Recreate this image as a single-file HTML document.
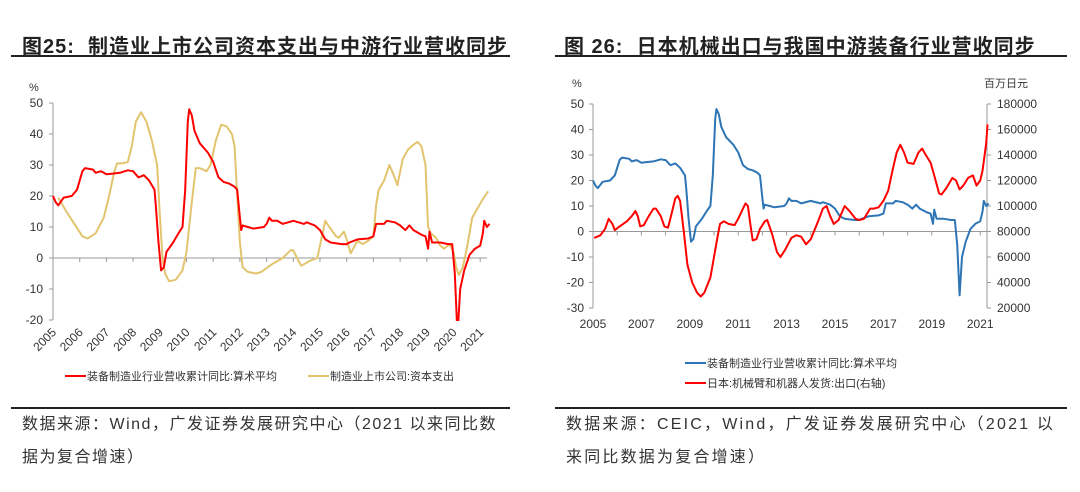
<!DOCTYPE html>
<html><head><meta charset="utf-8">
<style>
body{margin:0;width:1080px;height:492px;background:#fff;font-family:"Liberation Sans","Noto Sans CJK SC",sans-serif;position:relative;overflow:hidden}
.title{position:absolute;top:30px;font-size:20px;font-weight:bold;color:#222;white-space:nowrap;letter-spacing:1px}
.rule{position:absolute;height:2px;background:#222}
.foot{position:absolute;font-size:16px;color:#333;line-height:33px;letter-spacing:1.5px}
svg{position:absolute;left:0;top:0}
svg text{font-family:"Liberation Sans","Noto Sans CJK SC",sans-serif;fill:#333}
</style></head><body>
<div class="title" style="left:22px">图25:&nbsp; 制造业上市公司资本支出与中游行业营收同步</div>
<div class="rule" style="left:11px;width:499px;top:55px"></div>
<div class="title" style="left:564px">图 26:&nbsp; 日本机械出口与我国中游装备行业营收同步</div>
<div class="rule" style="left:555px;width:512px;top:55px"></div>
<div class="rule" style="left:11px;width:499px;top:407px"></div>
<div class="rule" style="left:555px;width:512px;top:407px"></div>
<div class="foot" style="left:22px;top:408px;width:486px">数据来源：Wind，广发证券发展研究中心（2021 以来同比数据为复合增速）</div>
<div class="foot" style="left:566px;top:408px;width:492px;letter-spacing:2.2px">数据来源：CEIC，Wind，广发证券发展研究中心（2021 以来同比数据为复合增速）</div>
<svg id="chart" width="1080" height="492"></svg>
<script>
const revenue=[[2005.0,20],[2005.1,18],[2005.2,17],[2005.4,19.5],[2005.7,20],[2005.9,22],[2006.1,28],[2006.2,29],[2006.5,28.5],[2006.6,27.5],[2006.8,28],[2007.0,27],[2007.2,27.2],[2007.5,27.5],[2007.8,28.3],[2008.0,28],[2008.2,26],[2008.4,26.7],[2008.6,25],[2008.8,22],[2008.85,17],[2008.95,5],[2009.05,-4],[2009.15,-3],[2009.25,2],[2009.5,5],[2009.7,8],[2009.85,10],[2009.95,22],[2010.05,44],[2010.1,48],[2010.2,46],[2010.3,41],[2010.5,37],[2010.8,34],[2011.0,31],[2011.2,26],[2011.4,24.5],[2011.6,24],[2011.8,23],[2011.9,22],[2012.0,13],[2012.05,9],[2012.1,10.5],[2012.3,10],[2012.5,9.5],[2012.9,10],[2013.0,11],[2013.1,13],[2013.2,12],[2013.4,12],[2013.6,11],[2014.0,12],[2014.4,11],[2014.5,11.5],[2014.8,10.5],[2015.0,9],[2015.2,6],[2015.4,5],[2015.8,4.5],[2016.0,4.5],[2016.1,5],[2016.4,6],[2016.8,6.3],[2017.0,7],[2017.1,11],[2017.4,11],[2017.5,12],[2017.8,11.5],[2018.0,10.5],[2018.2,9],[2018.35,10.5],[2018.5,9],[2018.8,7.5],[2018.95,7],[2019.05,3],[2019.1,8.5],[2019.2,5],[2019.5,5],[2019.8,4.5],[2019.95,4.5],[2020.05,-5],[2020.15,-25],[2020.25,-10],[2020.4,-4],[2020.6,1],[2020.8,3],[2021.0,4],[2021.1,8],[2021.15,12],[2021.25,10],[2021.35,11]];
const capex=[[2005.2,19.5],[2005.5,15],[2005.8,11],[2006.1,7],[2006.3,6.3],[2006.6,8],[2006.9,13],[2007.1,20],[2007.3,28],[2007.4,30.5],[2007.6,30.5],[2007.8,31],[2007.95,36],[2008.1,44],[2008.3,47],[2008.5,44],[2008.7,38],[2008.9,30],[2009.0,14],[2009.1,0],[2009.2,-5],[2009.35,-7.5],[2009.6,-7],[2009.85,-4],[2010.0,2],[2010.2,18],[2010.35,29],[2010.5,29],[2010.75,28],[2010.9,30],[2011.1,38],[2011.3,43],[2011.5,42.5],[2011.7,40],[2011.8,36],[2011.9,20],[2012.0,5],[2012.1,-3],[2012.3,-4.5],[2012.6,-5],[2012.8,-4.5],[2013.2,-2],[2013.6,0],[2013.9,2.5],[2014.0,2.5],[2014.2,-1],[2014.3,-2.5],[2014.6,-1],[2014.9,0],[2015.05,6],[2015.2,12],[2015.35,10],[2015.6,7],[2015.7,6.5],[2015.9,8.5],[2016.0,6],[2016.15,1.5],[2016.4,5.5],[2016.6,4.5],[2016.8,5.5],[2017.0,7],[2017.1,17],[2017.2,22],[2017.4,25],[2017.6,30],[2017.75,27],[2017.9,23.5],[2018.1,32],[2018.3,35],[2018.5,36.5],[2018.65,37.5],[2018.8,36],[2018.95,30],[2019.05,10],[2019.15,8],[2019.35,6.5],[2019.5,4],[2019.65,3],[2019.85,4.5],[2020.0,2],[2020.1,-3],[2020.2,-5.5],[2020.35,-3],[2020.5,3],[2020.7,13],[2020.9,16],[2021.1,19],[2021.3,21.5]];
const japanExports=[[2005.05,75000],[2005.3,77000],[2005.5,82000],[2005.65,90000],[2005.8,86000],[2005.9,81000],[2006.1,84000],[2006.4,88000],[2006.6,92000],[2006.75,96000],[2006.85,92000],[2006.95,84000],[2007.1,85000],[2007.3,92000],[2007.5,98000],[2007.6,98000],[2007.8,92000],[2007.95,84000],[2008.1,83000],[2008.25,94000],[2008.4,106000],[2008.5,108000],[2008.6,104000],[2008.75,80000],[2008.9,54000],[2009.1,40000],[2009.3,32000],[2009.45,29000],[2009.6,32000],[2009.85,44000],[2010.0,60000],[2010.15,76000],[2010.25,86000],[2010.4,88000],[2010.6,86000],[2010.85,85000],[2011.0,90000],[2011.2,98000],[2011.3,102000],[2011.4,100000],[2011.5,86000],[2011.6,73000],[2011.75,74000],[2011.9,82000],[2012.1,88000],[2012.2,89000],[2012.4,78000],[2012.6,64000],[2012.75,60000],[2012.95,66000],[2013.2,75000],[2013.4,77000],[2013.6,76000],[2013.8,70000],[2014.0,74000],[2014.3,88000],[2014.5,98000],[2014.65,100000],[2014.8,92000],[2014.95,86000],[2015.15,89000],[2015.4,100000],[2015.6,96000],[2015.85,90000],[2016.0,89000],[2016.2,90000],[2016.45,98000],[2016.6,98000],[2016.8,99000],[2017.0,104000],[2017.2,112000],[2017.4,130000],[2017.55,142000],[2017.7,148000],[2017.85,142000],[2018.0,134000],[2018.25,133000],[2018.45,142000],[2018.6,145000],[2018.75,140000],[2018.95,134000],[2019.1,124000],[2019.3,110000],[2019.4,109000],[2019.6,114000],[2019.85,122000],[2020.0,120000],[2020.15,113000],[2020.3,116000],[2020.5,122000],[2020.7,124000],[2020.85,116000],[2021.0,120000],[2021.1,128000],[2021.25,150000],[2021.3,164000]];
const leftYTicks=[50,40,30,20,10,0,-10,-20];
const leftYears=[2005,2006,2007,2008,2009,2010,2011,2012,2013,2014,2015,2016,2017,2018,2019,2020,2021];
const rightYTicks=[50,40,30,20,10,0,-10,-20,-30];
const rightY2Ticks=[180000,160000,140000,120000,100000,80000,60000,40000,20000];
const rightYears=[2005,2007,2009,2011,2013,2015,2017,2019,2021];

const NS='http://www.w3.org/2000/svg';
const svg=document.getElementById('chart');
function mk(tag,attrs,parent){const e=document.createElementNS(NS,tag);for(const k in attrs)e.setAttribute(k,attrs[k]);(parent||svg).appendChild(e);return e;}
function txt(s,attrs){const t=mk('text',attrs);t.textContent=s;return t;}

const lx=y=>53+(y-2005)*26.7;
const ly=v=>258-v*3.1;
const rx=y=>593+(y-2005)*24.2;
const ry=v=>104+(50-v)*2.55;
const ry2=v=>104+(180000-v)/160000*204;

const defs=mk('defs',{});
const cp=mk('clipPath',{id:'lclip'},defs);
mk('rect',{x:40,y:95,width:460,height:226},cp);

let g=mk('g',{});


mk('line',{x1:53,y1:ly(50),x2:53,y2:ly(-20),stroke:'#999','stroke-width':1},g);
leftYTicks.forEach(v=>{
  mk('line',{x1:49,y1:ly(v),x2:53,y2:ly(v),stroke:'#999'},g);
  const t=txt(v,{x:43,y:ly(v)+4,'text-anchor':'end','font-size':12});
  
  
});
const lu=txt('%',{x:29,y:91,'font-size':11});


g=mk('g',{});


mk('line',{x1:53,y1:ly(0),x2:487,y2:ly(0),stroke:'#999'},g);
leftYears.forEach(y=>{
  mk('line',{x1:lx(y),y1:ly(0),x2:lx(y),y2:ly(0)+4,stroke:'#999'},g);
  const t=txt(y,{x:lx(y)+4,y:333,'text-anchor':'end','font-size':12,transform:`rotate(-45 ${lx(y)+4} 333)`});
  
  
});
function path(data,fx,fy,color,w,parent){return mk('path',{d:data.map((p,i)=>(i?'L':'M')+fx(p[0]).toFixed(1)+','+fy(p[1]).toFixed(1)).join(''),fill:'none',stroke:color,'stroke-width':w,'stroke-linejoin':'round'},parent);}
const capexLine=path(capex,lx,ly,'#e3c46e',2);


const revL=path(revenue,lx,ly,'#f00',2);
revL.setAttribute('clip-path','url(#lclip)');



g=mk('g',{});


mk('line',{x1:65,y1:376,x2:86,y2:376,stroke:'#f00','stroke-width':2},g);
txt('装备制造业行业营收累计同比:算术平均',{x:87,y:380,'font-size':11});
mk('line',{x1:308,y1:376,x2:329,y2:376,stroke:'#e3c46e','stroke-width':2},g);
txt('制造业上市公司:资本支出',{x:330,y:380,'font-size':11});

g=mk('g',{});


mk('line',{x1:593,y1:ry(50),x2:593,y2:ry(-30),stroke:'#999'},g);
rightYTicks.forEach(v=>{
  mk('line',{x1:589,y1:ry(v),x2:593,y2:ry(v),stroke:'#999'},g);
  const t=txt(v,{x:584,y:ry(v)+4,'text-anchor':'end','font-size':12});
  
  
});
txt('%',{x:572,y:87,'font-size':11});
g=mk('g',{});


mk('line',{x1:987,y1:ry2(180000),x2:987,y2:ry2(20000),stroke:'#999'},g);
rightY2Ticks.forEach(v=>{
  mk('line',{x1:987,y1:ry2(v),x2:991,y2:ry2(v),stroke:'#999'},g);
  const t=txt(v,{x:997,y:ry2(v)+4,'font-size':12});
  
  
});
txt('百万日元',{x:984,y:87,'font-size':11});
g=mk('g',{});


mk('line',{x1:593,y1:ry(0),x2:987,y2:ry(0),stroke:'#999'},g);
for(let y=2005;y<=2021;y++) mk('line',{x1:rx(y),y1:ry(0),x2:rx(y),y2:ry(0)+4,stroke:'#999'},g);
rightYears.forEach(y=>{
  const t=txt(y,{x:rx(y),y:328,'text-anchor':'middle','font-size':12});
  
  
});
const revR=path(revenue,rx,ry,'#2e75b6',2);


const jpn=path(japanExports,rx,ry2,'#f00',2);



g=mk('g',{});


mk('line',{x1:685,y1:363,x2:706,y2:363,stroke:'#2e75b6','stroke-width':2},g);
txt('装备制造业行业营收累计同比:算术平均',{x:707,y:367,'font-size':11});
mk('line',{x1:685,y1:383,x2:706,y2:383,stroke:'#f00','stroke-width':2},g);
txt('日本:机械臂和机器人发货:出口(右轴)',{x:707,y:387,'font-size':11});
</script>
</body></html>
